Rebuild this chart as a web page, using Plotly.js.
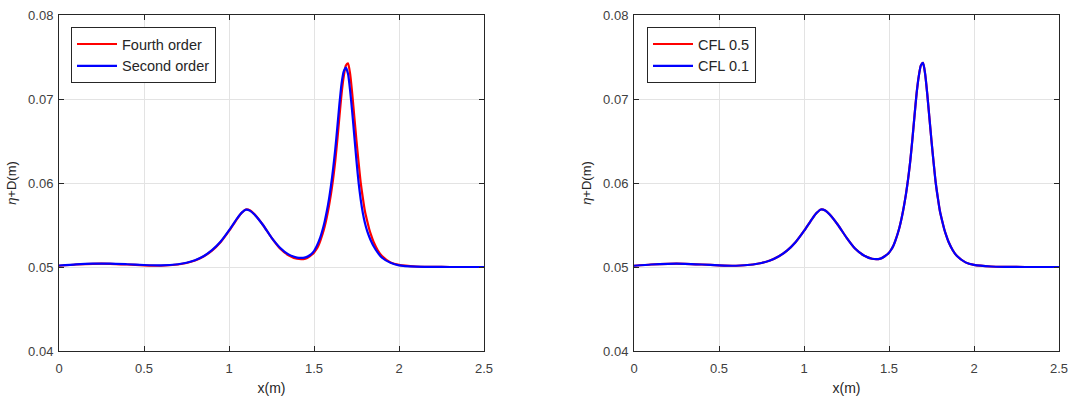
<!DOCTYPE html>
<html>
<head>
<meta charset="utf-8">
<script src="https://cdn.plot.ly/plotly-3.0.1.min.js"></script>
<style>html,body{margin:0;padding:0;background:#fff;}#chart{width:1073px;height:398px;}</style>
</head>
<body>
<div id="chart"></div>
<script>
// x positions (m)
const xPos = [0, 0.1, 0.2, 0.3, 0.4, 0.5, 0.6, 0.7, 0.75, 0.8, 0.85, 0.9, 0.95, 1.0, 1.05, 1.075, 1.1, 1.125, 1.15, 1.2, 1.25, 1.3, 1.35, 1.4, 1.45, 1.475, 1.5, 1.5125, 1.525, 1.5375, 1.55, 1.5625, 1.575, 1.5875, 1.6, 1.6125, 1.625, 1.6375, 1.65, 1.6625, 1.675, 1.6875, 1.7, 1.7125, 1.725, 1.7375, 1.75, 1.7625, 1.775, 1.7875, 1.8, 1.8125, 1.825, 1.8375, 1.85, 1.875, 1.9, 1.95, 2.0, 2.1, 2.2, 2.3, 2.4, 2.5];

// Left panel: eta + D (m)
const fourthOrder = [0.05015, 0.05030, 0.05038, 0.05038, 0.05030, 0.05020, 0.05015, 0.05030, 0.05048, 0.05078, 0.05125, 0.05195, 0.05295, 0.05430, 0.05580, 0.05645, 0.05685, 0.05672, 0.05628, 0.05500, 0.05350, 0.05220, 0.05140, 0.05098, 0.05100, 0.05128, 0.05170, 0.05205, 0.05250, 0.05315, 0.05390, 0.05480, 0.05590, 0.05720, 0.05870, 0.06050, 0.06260, 0.06520, 0.06800, 0.07070, 0.07270, 0.07400, 0.07425, 0.07300, 0.07060, 0.06780, 0.06500, 0.06240, 0.06000, 0.05820, 0.05660, 0.05550, 0.05450, 0.05370, 0.05300, 0.05200, 0.05130, 0.05055, 0.05025, 0.05006, 0.05002, 0.05000, 0.05000, 0.05000];
const secondOrder = [0.05018, 0.05032, 0.05040, 0.05040, 0.05033, 0.05024, 0.05020, 0.05033, 0.05050, 0.05080, 0.05128, 0.05200, 0.05300, 0.05435, 0.05585, 0.05648, 0.05682, 0.05668, 0.05624, 0.05500, 0.05350, 0.05230, 0.05150, 0.05112, 0.05115, 0.05140, 0.05190, 0.05235, 0.05290, 0.05355, 0.05440, 0.05540, 0.05660, 0.05800, 0.05970, 0.06170, 0.06400, 0.06670, 0.06950, 0.07190, 0.07330, 0.07375, 0.07300, 0.07100, 0.06840, 0.06550, 0.06260, 0.06000, 0.05800, 0.05640, 0.05520, 0.05430, 0.05360, 0.05300, 0.05250, 0.05170, 0.05110, 0.05050, 0.05020, 0.05005, 0.05002, 0.05000, 0.05000, 0.05000];

// Right panel: eta + D (m)
const cfl05 = [0.05015, 0.05030, 0.05038, 0.05038, 0.05030, 0.05020, 0.05015, 0.05030, 0.05048, 0.05078, 0.05125, 0.05195, 0.05295, 0.05430, 0.05580, 0.05645, 0.05685, 0.05672, 0.05628, 0.05500, 0.05350, 0.05220, 0.05140, 0.05098, 0.05100, 0.05128, 0.05170, 0.05205, 0.05250, 0.05315, 0.05390, 0.05480, 0.05590, 0.05720, 0.05870, 0.06050, 0.06260, 0.06520, 0.06800, 0.07070, 0.07270, 0.07400, 0.07430, 0.07300, 0.07060, 0.06780, 0.06500, 0.06240, 0.06000, 0.05820, 0.05660, 0.05550, 0.05450, 0.05370, 0.05300, 0.05200, 0.05130, 0.05055, 0.05025, 0.05006, 0.05002, 0.05000, 0.05000, 0.05000];
const cfl01 = [0.05015, 0.05030, 0.05038, 0.05038, 0.05030, 0.05020, 0.05015, 0.05030, 0.05048, 0.05078, 0.05125, 0.05195, 0.05295, 0.05430, 0.05580, 0.05645, 0.05685, 0.05672, 0.05628, 0.05500, 0.05350, 0.05220, 0.05140, 0.05098, 0.05100, 0.05128, 0.05170, 0.05205, 0.05250, 0.05315, 0.05390, 0.05480, 0.05590, 0.05720, 0.05870, 0.06050, 0.06260, 0.06520, 0.06800, 0.07070, 0.07270, 0.07400, 0.07430, 0.07300, 0.07060, 0.06780, 0.06500, 0.06240, 0.06000, 0.05820, 0.05660, 0.05550, 0.05450, 0.05370, 0.05300, 0.05200, 0.05130, 0.05055, 0.05025, 0.05006, 0.05002, 0.05000, 0.05000, 0.05000];

const xTicks = [0, 0.5, 1, 1.5, 2, 2.5];
const xTickText = ['0', '0.5', '1', '1.5', '2', '2.5'];
const yTicks = [0.04, 0.05, 0.06, 0.07, 0.08];
const yTickText = ['0.04', '0.05', '0.06', '0.07', '0.08'];

const FONT = '"Liberation Sans", Arial, Helvetica, sans-serif';
const AX = '#262626';

function line(name, x, y, color, xa, ya, lg) {
  return {
    type: 'scatter', mode: 'lines', name: name, x: x, y: y,
    xaxis: xa, yaxis: ya, legend: lg,
    line: {color: color, width: 2.2, shape: 'spline', smoothing: 0.6},
    hoverinfo: 'skip'
  };
}

const traces = [
  line('Fourth order', xPos, fourthOrder, '#ff0000', 'x', 'y', 'legend'),
  line('Second order', xPos, secondOrder, '#0000ff', 'x', 'y', 'legend'),
  line('CFL 0.5', xPos, cfl05, '#ff0000', 'x2', 'y2', 'legend2'),
  line('CFL 0.1', xPos, cfl01, '#0000ff', 'x2', 'y2', 'legend2')
];

function xAxis(domain, anchor) {
  return {
    domain: domain, anchor: anchor, range: [0, 2.5],
    tickmode: 'array', tickvals: xTicks, ticktext: xTickText,
    ticks: 'inside', ticklen: 5, tickwidth: 1, tickcolor: AX,
    showline: true, linecolor: AX, linewidth: 1, mirror: 'ticks',
    showgrid: true, gridcolor: '#e3e3e3', gridwidth: 1, zeroline: false,
    tickfont: {family: FONT, size: 13, color: '#404040'},
    ticklabelstandoff: 5,
    title: {text: 'x(m)', font: {family: FONT, size: 14, color: '#262626'}, standoff: 8},
    fixedrange: true
  };
}
function yAxis(domain, anchor) {
  return {
    domain: domain, anchor: anchor, range: [0.04, 0.08],
    tickmode: 'array', tickvals: yTicks, ticktext: yTickText,
    ticks: 'inside', ticklen: 5, tickwidth: 1, tickcolor: AX,
    showline: true, linecolor: AX, linewidth: 1, mirror: 'ticks',
    showgrid: true, gridcolor: '#e3e3e3', gridwidth: 1, zeroline: false,
    tickfont: {family: FONT, size: 13, color: '#404040'},
    ticklabelstandoff: 2,
    title: {text: '<i>η</i>+D(m)', font: {family: FONT, size: 13, color: '#262626'}, standoff: 8},
    fixedrange: true
  };
}
function legendBox(x) {
  return {
    x: x, y: 0.932, xanchor: 'left', yanchor: 'top', xref: 'paper', yref: 'paper',
    bgcolor: '#ffffff', bordercolor: AX, borderwidth: 1,
    font: {family: FONT, size: 14.5, color: '#262626'},
    tracegroupgap: 0, itemwidth: 40
  };
}

const yDom = [47 / 398, 383 / 398];
const layout = {
  width: 1073, height: 398,
  margin: {l: 0, r: 0, t: 0, b: 0, pad: 0},
  paper_bgcolor: '#ffffff', plot_bgcolor: '#ffffff',
  showlegend: true,
  xaxis: xAxis([59 / 1073, 484 / 1073], 'y'),
  yaxis: yAxis(yDom, 'x'),
  xaxis2: xAxis([634 / 1073, 1059 / 1073], 'y2'),
  yaxis2: yAxis(yDom, 'x2'),
  legend: legendBox(71 / 1073),
  legend2: legendBox(647 / 1073)
};

Plotly.newPlot('chart', traces, layout, {displayModeBar: false, staticPlot: true});
</script>
</body>
</html>
